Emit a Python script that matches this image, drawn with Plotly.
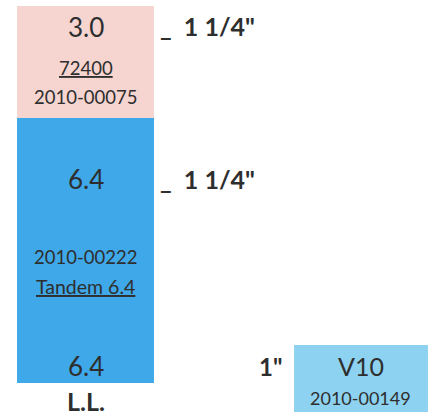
import plotly.graph_objects as go

# ---- data ----
columns = ["L.L.", "V10"]
bottom_base = [29, -20]          # where each column's lowest box starts (diagram units)
lower_heights = [265, 87]        # blue box heights
upper_heights = [112, 0]         # pink box heights (only L.L. column)

lower_colors = ["#3EA8E9", "#8DD2F0"]
upper_color = "#F6D5D0"

W, H = 437, 412
TXT = "#2E2E2E"
FONT = "Lato"
NB = "\u00a0"

fig = go.Figure()
fig.add_trace(go.Bar(
    x=columns, y=lower_heights, base=bottom_base,
    marker=dict(color=lower_colors, line=dict(width=0)),
    width=[0.497, 0.486], hoverinfo="skip", showlegend=False,
))
upper_base = [b + h for b, h in zip(bottom_base, lower_heights)]
fig.add_trace(go.Bar(
    x=columns, y=upper_heights, base=upper_base,
    marker=dict(color=upper_color, line=dict(width=0)),
    width=[0.497, 0.486], hoverinfo="skip", showlegend=False,
))

# labels: (text, px_x, px_y, size, bold, xanchor)
mark = f"_{NB}{NB}1{NB}1/4\""
labels = [
    ("3.0", 85.5, 27, 26, False, "center"),
    ("<u>72400</u>", 85.5, 68, 18.5, False, "center"),
    ("2010-00075", 85.5, 97, 18.5, False, "center"),
    ("6.4", 85.5, 179, 26, False, "center"),
    ("2010-00222", 85.5, 257, 18.5, False, "center"),
    ("<u>Tandem 6.4</u>", 85.5, 286, 19.5, False, "center"),
    ("6.4", 85.5, 366, 26, False, "center"),
    ("L.L.", 85.5, 401, 25, True, "center"),
    (mark, 158, 26, 25, True, "left"),
    (mark, 158, 179, 25, True, "left"),
    ("1\"", 257, 366, 24, True, "left"),
    ("V10", 361, 366, 25, False, "center"),
    ("2010-00149", 360, 398, 18, False, "center"),
]
for text, px, py, size, bold, xa in labels:
    fig.add_annotation(
        x=px / W, y=1 - py / H, xref="paper", yref="paper",
        text=f"<b>{text}</b>" if bold else text,
        showarrow=False, xanchor=xa, yanchor="middle",
        font=dict(family=FONT, size=size, color=TXT),
    )

px_per_unit = 275.5
left0 = 85.5
fig.update_layout(
    width=W, height=H,
    margin=dict(l=0, r=0, t=0, b=0),
    paper_bgcolor="white", plot_bgcolor="white",
    barmode="overlay",
    xaxis=dict(type="category", range=[-left0 / px_per_unit, (W - left0) / px_per_unit],
               visible=False, fixedrange=True),
    yaxis=dict(range=[0, H], visible=False, fixedrange=True),
)

fig.write_html("out.html", config={"displayModeBar": False},
               post_script="document.body.style.margin='0';document.body.style.overflow='hidden';")
